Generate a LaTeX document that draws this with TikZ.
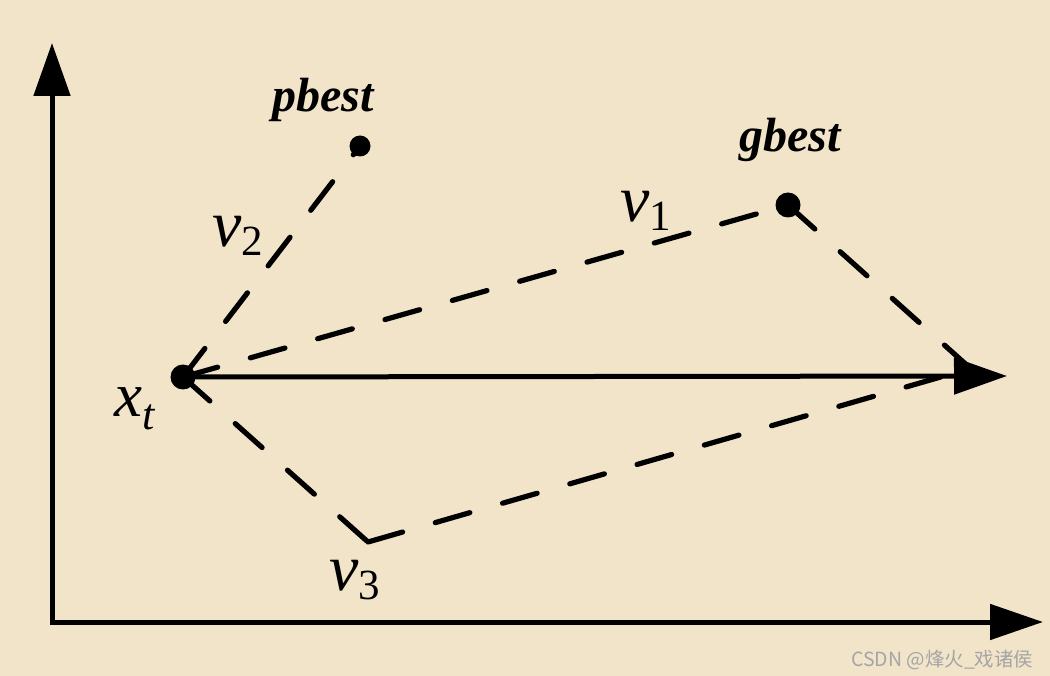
\documentclass[tikz,border=0pt]{standalone}
\usepackage{fontspec}
\setmainfont{Liberation Serif}
\newfontfamily\cjkfont{Noto Sans CJK SC}
\usetikzlibrary{arrows.meta}
\definecolor{bgcol}{RGB}{241,228,201}
\definecolor{wmcol}{RGB}{165,165,165}
\newcommand{\vlab}[2]{{\fontsize{66}{66}\selectfont\itshape #1}\raisebox{-9pt}{\fontsize{43}{43}\selectfont #2}}
\newcommand{\xlab}[2]{{\fontsize{63}{63}\selectfont\itshape #1}\raisebox{-13pt}{\fontsize{44}{44}\selectfont\itshape #2}}
\tikzset{
  dotnode/.style={circle, fill=black, inner sep=0pt},
  vecline/.style={line width=5.2pt, line cap=round, dash pattern=on 36pt off 34pt},
  axisline/.style={line width=5pt, line join=miter},
  bigtip/.style={-{Triangle[length=53pt,width=36pt]}},
  lbl/.style={anchor=base west, inner sep=0pt},
  best/.style={anchor=base, inner sep=0pt, font=\fontsize{48}{48}\selectfont\bfseries\itshape}
}
\begin{document}
\begin{tikzpicture}[x=1pt,y=-1pt]
\fill[bgcol] (0,0) rectangle (1050,676);
\useasboundingbox (0,0) rectangle (1050,676);
% points
\node[dotnode, minimum size=25pt] (xt) at (183,377) {};
\node[dotnode, minimum size=21pt] (pb) at (360,146) {};
\node[dotnode, minimum size=25pt] (gb) at (788,205) {};
\coordinate (c3) at (368,542);
\coordinate (tip) at (1007,376);
\coordinate (e1) at (970,368);
\coordinate (e3) at (958,372);
\coordinate (O) at (52,622);
\coordinate (ytop) at (52,43);
\coordinate (xend) at (1043,622);
% axes
\draw[axisline, {Triangle[length=53pt,width=36pt]}-{Triangle[length=53pt,width=35pt]}] (ytop) -- (O) -- (xend);
% dashed vectors
\draw[vecline] (xt.center) -- (pb.center);
\draw[vecline] (xt.center) -- (gb.center);
\draw[vecline] (gb.center) -- (e1);
\draw[vecline] (xt.center) -- (c3);
\draw[vecline] (c3) -- (e3);
% resulting velocity
\draw[line width=5pt, bigtip] (xt.center) -- (tip);
% labels
\node[best] (pbl) at (323,112) {pbest};
\node[best] (gbl) at (790,152) {gbest};
\node[lbl] (v1) at (620,222) {\vlab{v}{1}};
\node[lbl] (v2) at (212,247) {\vlab{v}{2}};
\node[lbl] (v3) at (329,590) {\vlab{v}{3}};
\node[lbl] (xl) at (114,417) {\xlab{x}{t}};
\node[anchor=base west, inner sep=0pt, text=wmcol, font=\cjkfont\fontsize{19.5}{19.5}\selectfont] (wm) at (851,666) {CSDN @烽火\_戏诸侯};
\end{tikzpicture}
\end{document}
